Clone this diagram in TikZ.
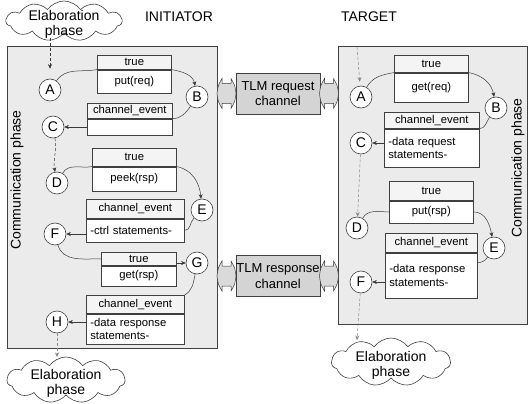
\documentclass[tikz,border=0pt]{standalone}
\usepackage{fontspec}
\setmainfont{Liberation Sans}
\usetikzlibrary{shapes.symbols,arrows.meta,calc}
\definecolor{bx}{HTML}{404040}
\definecolor{ln}{HTML}{3A3A3A}
\definecolor{lightln}{HTML}{8A8A8A}
\definecolor{panel}{HTML}{EBEBEB}
\definecolor{chanfill}{HTML}{D4D4D4}
\definecolor{hdrfill}{HTML}{F4F4F4}
\definecolor{dblfill}{HTML}{DADADA}
\newcommand{\tpbox}[9]{%
  \node[hdr, minimum width=#4pt, minimum height=#5pt, anchor=north west] (#1h) at (#2,#3) {#7};
  \node[bdy, minimum width=#4pt, minimum height=#6pt, anchor=north west, #9] (#1b) at (#1h.south west) {#8};}
\newcommand{\cloudtext}{\smash{\makebox[0pt]{\raisebox{-8pt}{\begin{tabular}{@{}c@{}}Elaboration\\phase\end{tabular}}}}}
\begin{document}
\begin{tikzpicture}[x=1pt,y=-1pt,
  bigbox/.style={draw=bx, line width=0.8pt, fill=panel, inner sep=0pt},
  chan/.style={draw=bx, line width=0.7pt, fill=chanfill, minimum width=84pt, minimum height=41pt, align=center, font=\fontsize{13}{15.5}\selectfont, inner sep=0pt},
  hdr/.style={draw=bx, line width=0.6pt, fill=hdrfill, inner xsep=4pt, inner ysep=0pt, font=\fontsize{11.3}{13.5}\selectfont},
  bdy/.style={draw=bx, line width=0.6pt, fill=white, inner xsep=4pt, inner ysep=0pt, font=\fontsize{11.3}{13.5}\selectfont},
  st/.style={circle, draw=bx, line width=0.6pt, fill=white, minimum size=22pt, inner sep=0pt, font=\fontsize{14}{16}\selectfont},
  conn/.style={draw=ln, line width=0.5pt},
  arr/.style={conn, -{Stealth[length=4.5pt,width=4pt]}},
  dsh/.style={arr, dash pattern=on 3pt off 2pt},
  light/.style={draw=lightln},
  cloudsh/.style={cloud, draw=bx, fill=white, cloud puffs=11, cloud puff arc=110, cloud ignores aspect, inner sep=0pt, line width=0.6pt, font=\fontsize{14}{15}\selectfont},
  lbl/.style={font=\fontsize{14}{16}\selectfont, inner sep=0pt},
  dblarr/.pic={\draw[draw=ln, line width=0.5pt, fill=dblfill] (-9.5,0) .. controls (-8.5,-8) .. (-4.5,-15) -- (-4.5,-10) -- (4.5,-10) -- (4.5,-15) .. controls (8.5,-8) .. (9.5,0) .. controls (8.5,8) .. (4.5,15) -- (4.5,10) -- (-4.5,10) -- (-4.5,15) .. controls (-8.5,8) .. (-9.5,0) -- cycle;}
]
\useasboundingbox (0,0) rectangle (528,404);

% panels
\node[bigbox, anchor=north west, minimum width=210pt, minimum height=302pt] (ibox) at (7,46) {};
\node[bigbox, anchor=north west, minimum width=189pt, minimum height=278pt] (tbox) at (338,46) {};
\node[lbl, rotate=90] (icomm) at (17,180) {Communication phase};
\node[lbl, rotate=90] (tcomm) at (518,168) {Communication phase};

% titles
\node[lbl] (init) at (179,17) {INITIATOR};
\node[lbl] (targ) at (369,17) {TARGET};

% clouds
\node[cloudsh, minimum width=116pt, minimum height=40pt] (cl1) at (64,21) {\cloudtext};
\node[cloudsh, minimum width=118pt, minimum height=46pt] (cl2) at (66,380) {\cloudtext};
\node[cloudsh, minimum width=119pt, minimum height=48pt] (cl3) at (391,362) {\cloudtext};

% channels
\node[chan] (req) at (278,93.5) {TLM request\\channel};
\node[chan] (rsp) at (278,276) {TLM response\\channel};
\pic at (226.5,93.5) {dblarr};
\pic at (329,93.5) {dblarr};
\pic at (226.5,276) {dblarr};
\pic at (329,276) {dblarr};

% initiator boxes
\tpbox{i1}{97}{55}{74}{14}{23}{true}{put(req)}{}
\tpbox{i2}{87}{103}{85}{15}{16}{channel\_event}{}{}
\tpbox{i3}{92}{148}{84}{18}{24}{true}{peek(rsp)}{}
\tpbox{i4}{86}{199}{98}{19}{23}{channel\_event}{-ctrl statements-}{text width=90pt, align=left}
\tpbox{i5}{101}{252}{75}{13}{20}{true}{get(rsp)}{}
\tpbox{i6}{86}{295}{98}{18}{30}{channel\_event}{-data response\\statements-}{text width=90pt, align=left}

% target boxes
\tpbox{t1}{394}{55}{74}{17}{29}{true}{get(req)}{}
\tpbox{t2}{384}{112}{95}{16}{38}{channel\_event}{-data request\\statements-}{text width=87pt, align=left}
\tpbox{t3}{389}{181}{84}{19}{22}{true}{put(rsp)}{}
\tpbox{t4}{385}{233}{92}{19}{45}{channel\_event}{-data response\\statements-}{text width=84pt, align=left}

% initiator states
\node[st] (iA) at (50,90) {A};
\node[st] (iB) at (197,97) {B};
\node[st] (iC) at (53,127) {C};
\node[st] (iD) at (57,183) {D};
\node[st] (iE) at (202,210) {E};
\node[st] (iF) at (55,234) {F};
\node[st] (iG) at (197,263) {G};
\node[st] (iH) at (57,322) {H};

% target states
\node[st] (tA) at (361,97) {A};
\node[st] (tB) at (496,108) {B};
\node[st] (tC) at (361,143) {C};
\node[st] (tD) at (357,228) {D};
\node[st] (tE) at (494,248) {E};
\node[st] (tF) at (361,282) {F};

% initiator connectors
\coordinate (iAfrom) at (50,38);
\draw[dsh, shorten >=10pt] (iAfrom) -- (iA);
\draw[conn] (iA) to[out=55,in=190] (i1h.south west);
\draw[arr] (i1h.south east) to[out=-10,in=100] (iB);
\draw[conn] (iB) to[out=235,in=0] (i2h.south east);
\draw[arr] (i2b.west |- iC) -- (iC);
\draw[dsh] (iC) to[out=-80,in=100] (iD);
\draw[conn] (iD) to[out=60,in=190] (i3h.south west);
\draw[arr] (i3h.south east) to[out=-10,in=95] (iE);
\draw[conn] (iE) to[out=225,in=0] (i4b.east);
\draw[arr] (i4b.west |- iF) -- (iF);
\draw[conn] (iF) to[out=-75,in=180] (i5h.west);
\draw[arr] (i5h.east |- iG) -- (iG);
\draw[conn] (iG) to[out=-100,in=30] (i6h.north east);
\draw[arr] (i6b.west |- iH) -- (iH);
\coordinate (cl2in) at (57,357);
\draw[dsh, light] (iH) -- (cl2in);

% target connectors
\coordinate (tAfrom) at (357,47);
\draw[dsh, light, shorten >=4pt] (tAfrom) -- (tA);
\draw[conn] (tA) to[out=60,in=190] (t1h.south west);
\draw[arr] (t1h.south east) to[out=-10,in=100] (tB);
\draw[conn] (tB) to[out=235,in=0] (t2h.south east);
\draw[arr] (t2b.west |- tC) -- (tC);
\draw[dsh, light] (tC) -- (tD);
\draw[conn] (tD) to[out=60,in=180] (t3b.west);
\draw[arr] (t3b.east) to[out=0,in=100] (tE);
\draw[conn] (tE) to[out=235,in=0] ($(t4b.north east)+(0,10)$);
\draw[arr] (t4b.west |- tF) -- (tF);
\coordinate (cl3in) at (357,340);
\draw[dsh, light] (tF) -- (cl3in);
\end{tikzpicture}
\end{document}
